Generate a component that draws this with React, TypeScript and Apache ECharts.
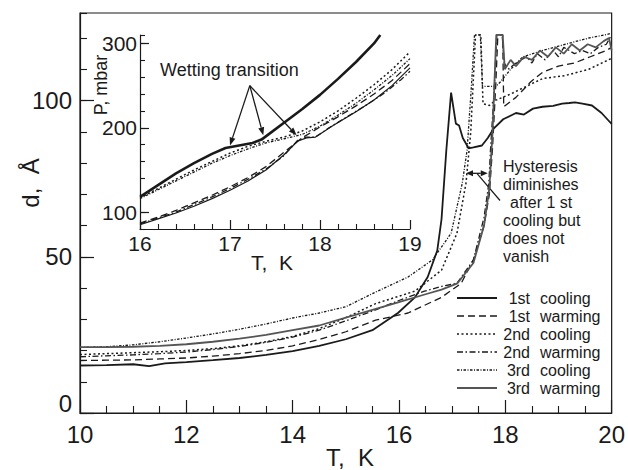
import React, { useEffect, useRef } from 'react';
import * as echarts from 'echarts';

const SERIES_NAMES = ['1st cooling', '1st warming', '2nd cooling', '2nd warming', '3rd cooling', '3rd warming'];

// Main plot: T (K), d (Å)
const cool1: [number, number][] = [[10,15.2],[10.5,15.3],[11,15.6],[11.3,15],[11.6,15.9],[12,16.3],[12.5,16.9],[13,17.6],[13.5,18.6],[14,19.8],[14.5,21.5],[15,23.6],[15.5,26.5],[15.98,32],[16.3,37],[16.54,43.5],[16.72,52],[16.8,62],[16.89,84],[16.98,102.5],[17.07,92.6],[17.13,92],[17.2,88],[17.31,84.7],[17.4,85],[17.56,85.6],[17.67,88],[17.78,91],[17.96,94],[18.2,96],[18.35,95.5],[18.52,97.4],[18.7,98],[18.9,98.3],[19.07,99],[19.2,99.2],[19.31,99.4],[19.45,99],[19.63,98.4],[19.81,96],[19.94,93.6],[20,92.5]];
const warm1: [number, number][] = [[10,16.8],[10.5,16.9],[11,17],[11.5,17.3],[12,17.6],[12.5,18.2],[13,19],[13.5,20],[14,21.5],[14.5,23.5],[15,26],[15.56,29.7],[16.17,32],[16.8,37],[17.17,41.5],[17.4,49],[17.6,60],[17.7,70],[17.76,85],[17.82,105],[17.86,121],[17.95,121],[17.97,98],[18.2,101],[18.48,106],[18.7,109],[19,111],[19.3,112],[19.6,114],[19.9,116],[20,117]];
const cool2: [number, number][] = [[10,18.7],[10.5,19],[11,19.3],[11.5,19.6],[12,20],[12.5,20.6],[13,21.5],[13.5,22.8],[14,24.5],[14.5,27],[15,30.5],[15.56,35],[16.3,39],[16.8,45.7],[17.09,57.5],[17.26,73.5],[17.35,90],[17.44,121],[17.54,121],[17.58,99],[17.7,98.4],[17.81,100],[18.09,102],[18.33,104],[18.7,107],[19.13,108],[19.57,110],[19.94,113],[20,113.5]];
const warm2: [number, number][] = [[10,18],[10.5,18.3],[11,18.6],[11.5,19],[12,19.5],[12.5,20.3],[13,21.3],[13.5,22.6],[14,24.3],[14.5,26.5],[15,29.5],[15.56,33],[16,36],[16.48,39],[16.8,40.5],[17.09,41.5],[17.4,49],[17.6,62.6],[17.69,73.5],[17.72,84],[17.78,100],[17.84,121],[17.94,121],[17.98,112],[18.05,110],[18.2,112],[18.4,114],[18.5,112],[18.6,115],[18.75,113],[18.9,116],[19,114],[19.1,117],[19.3,115],[19.45,116],[19.6,115],[19.75,117],[19.9,118],[20,121]];
const cool3: [number, number][] = [[10,21],[10.5,21.2],[11,21.8],[11.5,22.8],[12,24],[12.5,25.3],[13,26.8],[13.5,28.5],[14,30.4],[14.5,32],[15,34],[15.56,38.7],[16.17,43.5],[16.63,49],[16.98,57.5],[17.19,73.5],[17.28,84],[17.36,104],[17.42,121],[17.53,121],[17.57,104.5],[17.7,104.5],[17.82,104.5],[17.91,106],[18.1,110],[18.33,114],[18.7,116],[19.13,118],[19.57,120],[19.87,121],[20,121.5]];
const warm3: [number, number][] = [[10,21.1],[10.5,21.1],[11,21.2],[11.5,21.5],[12,22],[12.5,22.8],[13,23.8],[13.5,25],[14,26.5],[14.5,28],[15,30.5],[15.5,33],[16,35.5],[16.5,38],[16.8,39.5],[17.1,41.5],[17.4,48],[17.6,60],[17.7,72],[17.76,90],[17.83,121],[17.95,121],[17.99,110],[18.1,113],[18.2,111],[18.35,114],[18.5,113],[18.65,116],[18.8,114],[18.95,117],[19.1,115],[19.25,118],[19.4,116],[19.55,118],[19.7,117],[19.85,119],[19.95,120],[20,116]];

// Inset: T (K), P (mbar)
const insetCool1: [number, number][] = [[16,118],[16.2,132],[16.4,146],[16.6,158],[16.8,169],[16.95,176],[17.1,179],[17.25,182],[17.35,186],[17.45,194],[17.6,206],[17.8,222],[18,239],[18.2,258],[18.4,278],[18.6,300],[18.67,310]];
const insetWarm1: [number, number][] = [[16,87],[16.2,94],[16.4,102],[16.6,111],[16.8,120],[17,130],[17.2,141],[17.4,154],[17.6,171],[17.8,188],[18,201],[18.2,213],[18.4,226],[18.6,240],[18.8,256],[19,276]];
const insetCool2: [number, number][] = [[16,117],[16.2,128],[16.4,139],[16.6,150],[16.8,160],[17,170],[17.2,178],[17.4,184],[17.6,189],[17.8,196],[18,207],[18.2,220],[18.4,235],[18.6,251],[18.8,269],[19,290]];
const insetWarm2: [number, number][] = [[16,86],[16.2,93],[16.4,100],[16.6,109],[16.8,118],[17,128],[17.2,139],[17.4,151],[17.6,167],[17.75,185],[17.85,189],[17.95,189],[18.1,200],[18.3,213],[18.5,226],[18.7,240],[18.9,257],[19,267]];
const insetCool3: [number, number][] = [[16,116],[16.4,137],[16.8,158],[17,167],[17.2,175],[17.4,182],[17.6,187],[17.8,192],[18,202],[18.2,215],[18.4,229],[18.6,245],[18.8,262],[19,282]];
const insetWarm3: [number, number][] = [[16,85],[16.2,92],[16.4,99],[16.6,107],[16.8,116],[17,126],[17.2,137],[17.4,150],[17.6,168],[17.75,184],[17.85,188],[17.95,189],[18.15,203],[18.4,219],[18.6,233],[18.8,250],[19,271]];

const MAIN_Y_MAJOR = [0, 50, 100];
const MAIN_Y_LABELS = [50, 100];
const INSET_Y_MAJOR = [100, 200, 300];

const FONT = 'Liberation Sans, Arial, Helvetica, sans-serif';
const INK = '#1a1a1a';

const mainData = [cool1, warm1, cool2, warm2, cool3, warm3];
const insetData = [insetCool1, insetWarm1, insetCool2, insetWarm2, insetCool3, insetWarm3];

const lineStyles: any[] = [
  { type: 'solid', width: 1.8, color: INK },
  { type: [7, 4], width: 1.3, color: INK },
  { type: [2, 2.5], width: 1.5, color: INK },
  { type: [6, 2.5, 1.5, 2.5], width: 1.3, color: INK },
  { type: [2.5, 1.5, 1, 1.5], width: 1.3, color: INK },
  { type: 'solid', width: 1.8, color: '#555' },
];

function arrow(x1: number, y1: number, x2: number, y2: number, head = 8, half = 3) {
  const ang = Math.atan2(y2 - y1, x2 - x1);
  const bx = x2 - head * Math.cos(ang);
  const by = y2 - head * Math.sin(ang);
  const px = -Math.sin(ang) * half;
  const py = Math.cos(ang) * half;
  return [
    { type: 'line', shape: { x1, y1, x2: bx, y2: by }, style: { stroke: INK, lineWidth: 1.3 }, silent: true },
    { type: 'polygon', shape: { points: [[x2, y2], [bx + px, by + py], [bx - px, by - py]] }, style: { fill: INK }, silent: true },
  ];
}

export default function App() {
  const ref = useRef<HTMLDivElement>(null);
  useEffect(() => {
    document.body.style.margin = '0';
    const chart = echarts.init(ref.current!, null, { renderer: 'svg' });
    const axisLineStyle = { color: INK, width: 1.2 };
    const series: any[] = [];
    mainData.forEach((d, i) => {
      series.push({
        name: SERIES_NAMES[i], type: 'line', xAxisIndex: 0, yAxisIndex: 0, data: d,
        symbol: 'none', showSymbol: false, lineStyle: lineStyles[i], itemStyle: { color: lineStyles[i].color },
        z: 3,
      });
    });
    insetData.forEach((d, i) => {
      const ls = { ...lineStyles[i] };
      if (i === 0) ls.width = 2.6;
      else if (i === 5) { ls.width = 1.2; ls.color = INK; }
      series.push({
        name: 'inset ' + SERIES_NAMES[i], type: 'line', xAxisIndex: 1, yAxisIndex: 2, data: d,
        symbol: 'none', showSymbol: false, lineStyle: ls, z: 3,
      });
    });

    const option: any = {
      animation: false,
      backgroundColor: '#fff',
      textStyle: { fontFamily: FONT, color: INK },
      grid: [
        { left: 80, top: 13, width: 540, height: 400, show: true, borderColor: INK, borderWidth: 1.2, backgroundColor: 'transparent' },
        { left: 140, top: 35, width: 270, height: 194, show: false },
      ],
      xAxis: [
        {
          gridIndex: 0, type: 'value', min: 10, max: 20, interval: 2,
          axisLine: { show: true, onZero: false, lineStyle: axisLineStyle },
          axisTick: { show: true, inside: true, length: 13, lineStyle: { color: INK, width: 1.2 } },
          minorTick: { show: true, splitNumber: 4, length: 7, lineStyle: { color: INK, width: 1.1 } },
          axisLabel: { fontSize: 24, margin: 9, color: INK, fontFamily: FONT },
          splitLine: { show: false }, minorSplitLine: { show: false },
        },
        {
          gridIndex: 1, type: 'value', min: 16, max: 19, interval: 1,
          axisLine: { show: true, onZero: false, lineStyle: axisLineStyle },
          axisTick: { show: true, inside: true, length: 9, lineStyle: { color: INK, width: 1.2 } },
          minorTick: { show: true, splitNumber: 5, length: 5, lineStyle: { color: INK, width: 1.1 } },
          axisLabel: { fontSize: 21, margin: 4, color: INK, fontFamily: FONT },
          splitLine: { show: false }, minorSplitLine: { show: false },
        },
      ],
      yAxis: [
        {
          gridIndex: 0, type: 'value', min: 0, max: 128, interval: 10, position: 'left',
          axisLine: { show: true, onZero: false, lineStyle: axisLineStyle },
          axisTick: { show: true, inside: true, length: 7, lineStyle: { color: INK, width: 1.1 } },
          axisLabel: { show: false }, splitLine: { show: false },
        },
        {
          gridIndex: 0, type: 'value', min: 0, max: 128, position: 'left',
          axisLine: { show: false },
          axisTick: { show: true, inside: true, length: 14, customValues: MAIN_Y_MAJOR, lineStyle: { color: INK, width: 1.2 } },
          axisLabel: { show: true, customValues: MAIN_Y_LABELS, fontSize: 24, margin: 8, color: INK, fontFamily: FONT },
          splitLine: { show: false },
        },
        {
          gridIndex: 1, type: 'value', min: 80, max: 310, interval: 20, position: 'left',
          axisLine: { show: true, onZero: false, lineStyle: axisLineStyle },
          axisTick: { show: true, inside: true, length: 5, lineStyle: { color: INK, width: 1.1 } },
          axisLabel: { show: false }, splitLine: { show: false },
        },
        {
          gridIndex: 1, type: 'value', min: 80, max: 310, position: 'left',
          axisLine: { show: false },
          axisTick: { show: true, inside: true, length: 9, customValues: INSET_Y_MAJOR, lineStyle: { color: INK, width: 1.2 } },
          axisLabel: { show: true, customValues: INSET_Y_MAJOR, fontSize: 21, margin: 3, color: INK, fontFamily: FONT },
          splitLine: { show: false },
        },
      ],
      series,
    };
    chart.setOption(option);

    const pm = (x: number, y: number) => chart.convertToPixel({ xAxisIndex: 0, yAxisIndex: 0 }, [x, y]) as number[];
    const pi = (x: number, y: number) => chart.convertToPixel({ xAxisIndex: 1, yAxisIndex: 2 }, [x, y]) as number[];

    const g: any[] = [];
    const txt = (text: string, x: number, y: number, fontSize: number, align = 'left', rotation = 0) => ({
      type: 'text', x, y, rotation,
      style: { text, fontSize, fontFamily: FONT, fill: INK, align, verticalAlign: 'middle' },
      silent: true,
    });
    // The "0" label of the d axis sits slightly above the axis line in the reference
    const zero = pm(10, 0);
    g.push(txt('0', zero[0] - 8, zero[1] - 10, 24, 'right'));
    // Axis titles
    g.push(txt('d,  Å', 30, 183, 24, 'center', Math.PI / 2));
    g.push(txt('T,  K', 350, 457, 24, 'center'));
    g.push(txt('P, mbar', 101, 85, 18, 'center', Math.PI / 2));
    g.push(txt('T,  K', 272, 262, 21, 'center'));

    // Legend (drawn by hand so that each entry's line pattern matches its series)
    const rowY = [298, 316, 334, 352, 370, 388];
    SERIES_NAMES.forEach((name, i) => {
      const ls = lineStyles[i];
      const y = rowY[i];
      g.push({
        type: 'line', shape: { x1: 457, y1: y, x2: 497, y2: y }, silent: true,
        style: { stroke: ls.color, lineWidth: ls.width, lineDash: Array.isArray(ls.type) ? ls.type : null },
      });
      const [a, b] = name.split(' ');
      g.push(txt(a, 530, y, 16, 'right'));
      g.push(txt(b, 540, y, 16, 'left'));
    });

    // Wetting transition
    g.push(txt('Wetting transition', 160, 70, 18, 'left'));
    const s = pi(17.22, 250);
    [[17.0, 179], [17.37, 191], [17.74, 191]].forEach(([t, p]) => {
      const e = pi(t, p);
      g.push(...arrow(s[0], s[1], e[0], e[1], 8, 3));
    });

    // Hysteresis annotation
    const lines: [string, number, number][] = [
      ['Hysteresis', 503, 166],
      ['diminishes', 503, 184],
      ['after 1 st', 510, 202],
      ['cooling but', 503, 220],
      ['does not', 503, 238],
      ['vanish', 503, 256],
    ];
    lines.forEach(([t, x, y]) => g.push(txt(t, x, y, 16, 'left')));
    const a1 = pm(17.26, 76.7);
    const a2 = pm(17.67, 76.7);
    const mid = [(a1[0] + a2[0]) / 2, a1[1]];
    g.push(...arrow(mid[0], mid[1], a1[0], a1[1], 7, 3));
    g.push(...arrow(mid[0], mid[1], a2[0], a2[1], 7, 3));
    const q = pm(17.9, 68);
    g.push({ type: 'line', shape: { x1: mid[0], y1: mid[1], x2: q[0], y2: q[1] }, style: { stroke: INK, lineWidth: 1.2 }, silent: true });

    chart.setOption({ graphic: { elements: g } });

    return () => chart.dispose();
  }, []);
  return <div ref={ref} style={{ width: 628, height: 470 }} />;
}
